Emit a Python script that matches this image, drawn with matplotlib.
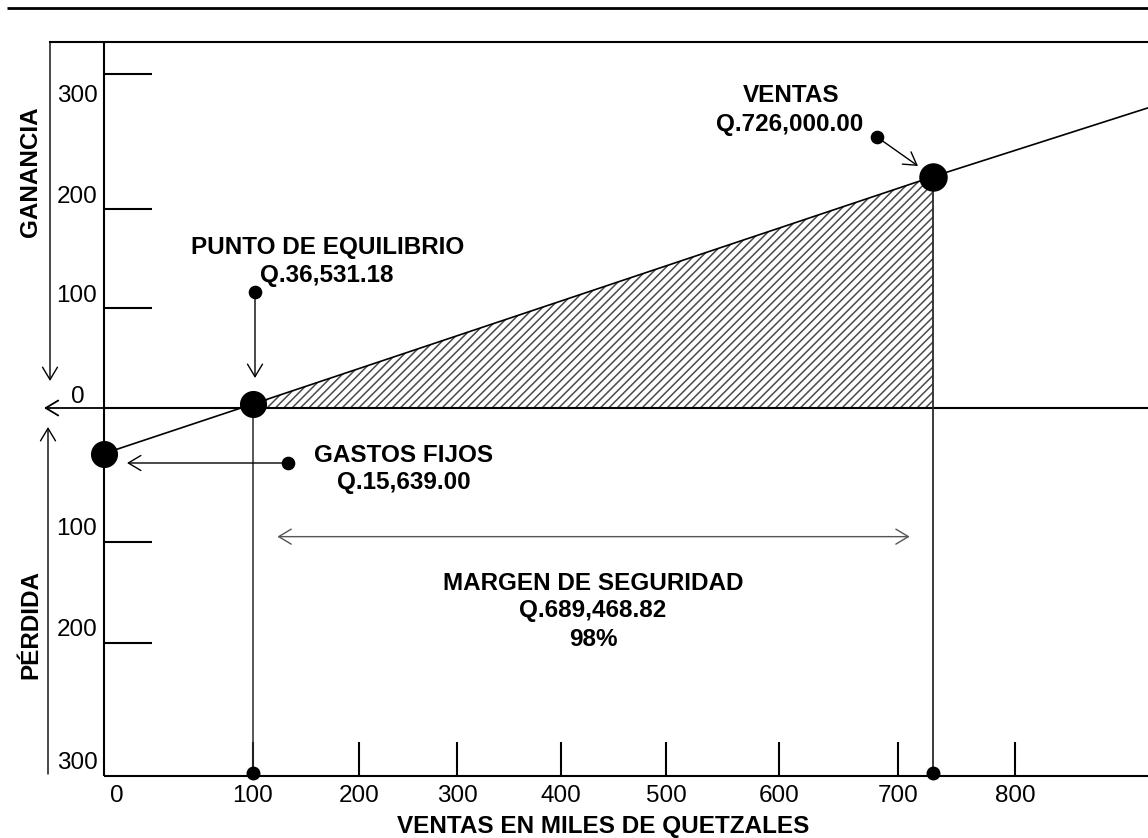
import numpy as np
import matplotlib
matplotlib.use("Agg")
import matplotlib.pyplot as plt
import matplotlib.transforms as mtransforms

plt.rcParams['font.family'] = ['Liberation Sans', 'DejaVu Sans']
plt.rcParams['hatch.linewidth'] = 1.1

# ---------------- data ----------------
x_ticks = [0, 100, 200, 300, 400, 500, 600, 700, 800]
x_tick_labels = ['0', '100', '200', '300', '400', '500', '600', '700', '800']
gain_ticks = [100, 200, 300]
gain_labels = ['100', '200', '300']
loss_ticks = [-100, -200, -300]
loss_labels = ['100', '200', '300']
zero_label = '0'

# cost-volume-profit line (x: ventas en miles de Q, y: ganancia / pérdida)
cvp_x = [0, 100, 730, 914]
cvp_y = [-34, 4, 224, 275]
fixed_cost = (0, -34)
breakeven = (100, 4)
sales = (730, 224)
margin_x = [123, 710]
margin_y = -96

txt_ventas = ['VENTAS', 'Q.726,000.00']
txt_pe = ['PUNTO DE EQUILIBRIO', 'Q.36,531.18']
txt_gf = ['GASTOS FIJOS', 'Q.15,639.00']
txt_ms = ['MARGEN DE SEGURIDAD', 'Q.689,468.82', '98%']
xlabel = 'VENTAS EN MILES DE QUETZALES'
ylabel_gain = 'GANANCIA'
ylabel_loss = 'PÉRDIDA'

# ---------------- layout: calibration of the hand-drawn scales ----------------
W, H = 1148, 838
x_cal_px = np.array([104, 253, 359, 457, 561, 666, 779, 898, 1015], float)
y_cal_val = np.array([-300, -200, -100, 0, 100, 200, 300], float)
y_cal_px = np.array([776, 643, 542, 408, 308, 209, 74], float)


def piecewise(src, dst):
    src = np.asarray(src, float)
    dst = np.asarray(dst, float)
    s0 = (dst[1] - dst[0]) / (src[1] - src[0])
    s1 = (dst[-1] - dst[-2]) / (src[-1] - src[-2])

    def f(v):
        v = np.asarray(v, float)
        out = np.interp(v, src, dst)
        out = np.where(v < src[0], dst[0] + (v - src[0]) * s0, out)
        out = np.where(v > src[-1], dst[-1] + (v - src[-1]) * s1, out)
        return out
    return f


fx = piecewise(x_ticks, x_cal_px)
ix = piecewise(x_cal_px, x_ticks)
fy = piecewise(y_cal_val, -y_cal_px)
iy = piecewise(-y_cal_px, y_cal_val)

fig = plt.figure(figsize=(W / 100, H / 100), dpi=100)
ax = fig.add_axes([0, 0, 1, 1])
ax.set_xscale('function', functions=(fx, ix))
ax.set_yscale('function', functions=(fy, iy))
ax.set_xlim(float(ix(0)), float(ix(W)))
ax.set_ylim(float(iy(-H)), float(iy(0)))
ax.set_autoscale_on(False)
ax.axis('off')

px = mtransforms.Affine2D().scale(1.0 / W, -1.0 / H).translate(0, 1) + fig.transFigure
bx = mtransforms.blended_transform_factory(ax.transData, px)   # x data, y pixel
by = mtransforms.blended_transform_factory(px, ax.transData)   # x pixel, y data


def off(dx, dy):
    return mtransforms.ScaledTranslation(dx / 100.0, -dy / 100.0, fig.dpi_scale_trans)


K = 'black'
LW = 1.5
FS = 17.5
BASE = 8.7  # visual centre -> baseline, pixels

# title rule and frame
ax.plot([7, W], [8, 8], transform=px, color=K, lw=2.0, solid_capstyle='butt')
ax.plot([49, W], [42, 42], transform=px, color=K, lw=LW, solid_capstyle='butt')
ax.plot([0, 0], [42, 776], transform=bx, color=K, lw=LW, solid_capstyle='butt')
ax.plot([104, W], [-300, -300], transform=by, color=K, lw=LW, solid_capstyle='butt')
ax.plot([104, W], [0, 0], transform=by, color=K, lw=LW, solid_capstyle='butt')

# ticks
for v in x_ticks[1:]:
    ax.plot([v, v], [742, 776], transform=bx, color=K, lw=LW, solid_capstyle='butt')
for v in gain_ticks + loss_ticks[:-1]:
    ax.plot([104, 152], [v, v], transform=by, color=K, lw=LW, solid_capstyle='butt')

# tick labels
for v, lab in zip(x_ticks, x_tick_labels):
    dx = 13 if v == 0 else 0
    ax.text(v, 793 + BASE, lab, transform=bx + off(dx, 0), ha='center', va='baseline', fontsize=FS)
for v, lab in zip(gain_ticks, gain_labels):
    dy = 19.5 if v == max(gain_ticks) else -14.5
    ax.text(77, v, lab, transform=by + off(0, dy + BASE), ha='center', va='baseline', fontsize=FS)
ax.text(78, 0, zero_label, transform=by + off(0, -13.5 + BASE), ha='center', va='baseline', fontsize=FS)
for v, lab in zip(loss_ticks, loss_labels):
    ax.text(77, v, lab, transform=by + off(0, -15.5 + BASE), ha='center', va='baseline', fontsize=FS)

# axis titles
ax.text(603, 824 + BASE, xlabel, transform=px, ha='center', va='baseline', fontsize=FS, fontweight='bold')
ax.text(30.5, 172, ylabel_gain, transform=px, ha='center', va='center', rotation=90,
        fontsize=FS, fontweight='bold')
ax.text(30.5, 624, ylabel_loss, transform=px, ha='center', va='center', rotation=90,
        fontsize=FS, fontweight='bold')

# arrows helper
ASTYLE = '->,head_length=0.5,head_width=0.3'


def arrow(p0, p1, coords=px, color=K, style=ASTYLE, lw=1.0):
    ax.annotate('', xy=p1, xycoords=coords, xytext=p0, textcoords=coords,
                arrowprops=dict(arrowstyle=style, lw=lw, color=color,
                                shrinkA=0, shrinkB=0, mutation_scale=18))


arrow((50, 42), (50, 381))
arrow((48, 774), (48, 427))
arrow((104, 408), (44, 408), lw=1.3)

# hatched profit area
ax.fill_between([breakeven[0], sales[0]], [breakeven[1], sales[1]], [0, 0],
                facecolor='none', edgecolor='#4a4a4a', hatch='////', linewidth=0, zorder=1)

# cvp line, verticals and points
ax.plot(cvp_x, cvp_y, color=K, lw=1.2, zorder=3)
ax.plot([breakeven[0]] * 2, [breakeven[1], -300], color='#2a2a2a', lw=1.1, zorder=3)
ax.plot([sales[0]] * 2, [sales[1], -300], color='#2a2a2a', lw=1.3, zorder=3)
for p, ms in ((fixed_cost, 18.5), (breakeven, 18.5), (sales, 19.5)):
    ax.plot(p[0], p[1], 'o', ms=ms, color=K, zorder=5)
ax.plot([breakeven[0], sales[0]], [-298, -298], 'o', ls='none', ms=9, color=K, zorder=5)

# annotations
ax.plot([877, 255, 288], [137, 292, 463], 'o', ls='none', ms=8.8, color=K, transform=px, zorder=5)
arrow((877, 137), (918, 166))
arrow((255, 292), (255, 378))
arrow((288, 463), (127, 463))

ax.text(791, 93 + BASE, txt_ventas[0], transform=px, ha='center', va='baseline', fontsize=FS, fontweight='bold')
ax.text(790, 122 + BASE, txt_ventas[1], transform=px, ha='center', va='baseline', fontsize=FS, fontweight='bold')
ax.text(328, 245 + BASE, txt_pe[0], transform=px, ha='center', va='baseline', fontsize=FS, fontweight='bold')
ax.text(327, 273 + BASE, txt_pe[1], transform=px, ha='center', va='baseline', fontsize=FS, fontweight='bold')
ax.text(404, 453 + BASE, txt_gf[0], transform=px, ha='center', va='baseline', fontsize=FS, fontweight='bold')
ax.text(404, 480 + BASE, txt_gf[1], transform=px, ha='center', va='baseline', fontsize=FS, fontweight='bold')
for t, yy in zip(txt_ms, (581, 608, 637)):
    ax.text(593, yy + BASE, t, transform=px, ha='center', va='baseline', fontsize=FS, fontweight='bold')

# margin of safety double arrow
arrow((margin_x[0], margin_y), (margin_x[1], margin_y), coords='data', color='#555555',
      style='<->,head_length=0.5,head_width=0.3', lw=1.0)

fig.savefig('out.png', dpi=100)
